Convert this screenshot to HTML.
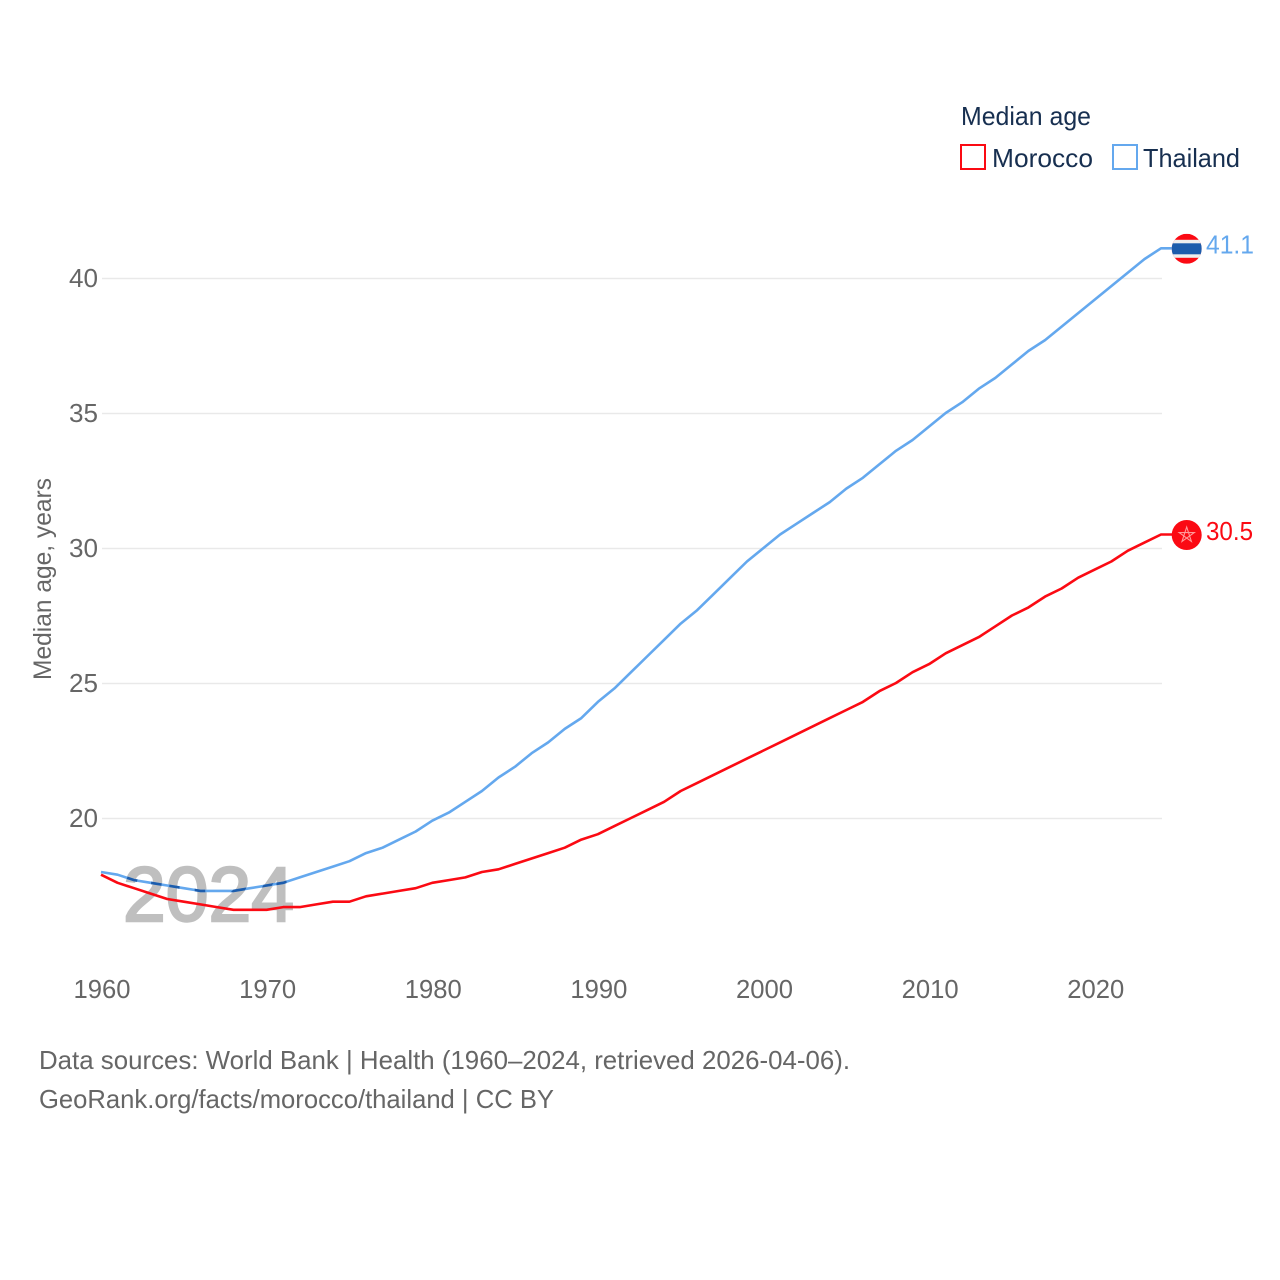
<!DOCTYPE html>
<html>
<head>
<meta charset="utf-8">
<title>Median age: Morocco and Thailand</title>
<style>
html,body{margin:0;padding:0;background:#fff;width:1280px;height:1280px;overflow:hidden}
svg{display:block}
text{font-family:"Liberation Sans",sans-serif}
</style>
</head>
<body>
<svg id="chart" xmlns="http://www.w3.org/2000/svg" width="1280" height="1280" viewBox="0 0 1280 1280">
  <defs>
    <clipPath id="flag-clip-th"><circle id="flag-clip-th-c" r="15"/></clipPath>
    <clipPath id="year-clip"><text x="123" y="921" font-size="77" font-weight="700" textLength="171" lengthAdjust="spacingAndGlyphs">2024</text></clipPath>
  </defs>
  <g id="grid"></g>
  <g id="yticks"></g>
  <g id="xticks"></g>
  <text transform="translate(51,680) rotate(-90)" font-size="25" fill="#666" textLength="202" lengthAdjust="spacingAndGlyphs">Median age, years</text>
  <text x="123" y="921" font-size="77" font-weight="400" fill="#bfbfbf" stroke="#bfbfbf" stroke-width="2.4" textLength="171" lengthAdjust="spacingAndGlyphs">2024</text>
  <g id="series"></g>
  <g id="ends"></g>
  <text x="961" y="125" font-size="26" fill="#172f50" textLength="130" lengthAdjust="spacingAndGlyphs">Median age</text>
  <g>
    <rect x="961" y="145" width="24" height="24" fill="none" stroke="#fb0a13" stroke-width="2"/>
    <text x="992" y="167" font-size="26" fill="#172f50" textLength="101" lengthAdjust="spacingAndGlyphs">Morocco</text>
  </g>
  <g>
    <rect x="1113" y="145" width="24" height="24" fill="none" stroke="#64a8ee" stroke-width="2"/>
    <text x="1143" y="167" font-size="26" fill="#172f50" textLength="97" lengthAdjust="spacingAndGlyphs">Thailand</text>
  </g>
  <text x="39" y="1069" font-size="26" fill="#666" textLength="811" lengthAdjust="spacingAndGlyphs">Data sources: World Bank | Health (1960–2024, retrieved 2026-04-06).</text>
  <text x="39" y="1108" font-size="26" fill="#666" textLength="515" lengthAdjust="spacingAndGlyphs">GeoRank.org/facts/morocco/thailand | CC BY</text>
</svg>
<script>
const years = [1960,1961,1962,1963,1964,1965,1966,1967,1968,1969,1970,1971,1972,1973,1974,1975,1976,1977,1978,1979,1980,1981,1982,1983,1984,1985,1986,1987,1988,1989,1990,1991,1992,1993,1994,1995,1996,1997,1998,1999,2000,2001,2002,2003,2004,2005,2006,2007,2008,2009,2010,2011,2012,2013,2014,2015,2016,2017,2018,2019,2020,2021,2022,2023,2024];
const thailandValues = [18.0,17.9,17.7,17.6,17.5,17.4,17.3,17.3,17.3,17.4,17.5,17.6,17.8,18.0,18.2,18.4,18.7,18.9,19.2,19.5,19.9,20.2,20.6,21.0,21.5,21.9,22.4,22.8,23.3,23.7,24.3,24.8,25.4,26.0,26.6,27.2,27.7,28.3,28.9,29.5,30.0,30.5,30.9,31.3,31.7,32.2,32.6,33.1,33.6,34.0,34.5,35.0,35.4,35.9,36.3,36.8,37.3,37.7,38.2,38.7,39.2,39.7,40.2,40.7,41.1];
const moroccoValues = [17.9,17.6,17.4,17.2,17.0,16.9,16.8,16.7,16.6,16.6,16.6,16.7,16.7,16.8,16.9,16.9,17.1,17.2,17.3,17.4,17.6,17.7,17.8,18.0,18.1,18.3,18.5,18.7,18.9,19.2,19.4,19.7,20.0,20.3,20.6,21.0,21.3,21.6,21.9,22.2,22.5,22.8,23.1,23.4,23.7,24.0,24.3,24.7,25.0,25.4,25.7,26.1,26.4,26.7,27.1,27.5,27.8,28.2,28.5,28.9,29.2,29.5,29.9,30.2,30.5];
const xTickLabels = [1960,1970,1980,1990,2000,2010,2020];
const yTickLabels = [20,25,30,35,40];

const NS = 'http://www.w3.org/2000/svg';
function xScale(year){ return 102 + (year - 1960) * (1060 / 64); }
function yScale(v){ return 818.5 - (v - 20) * 27; }
function make(tag, attrs, parent, txt){
  const el = document.createElementNS(NS, tag);
  for (const k in attrs) el.setAttribute(k, attrs[k]);
  if (txt !== undefined) el.textContent = txt;
  parent.appendChild(el);
  return el;
}
const gridG = document.getElementById('grid');
const yG = document.getElementById('yticks');
const xG = document.getElementById('xticks');
const seriesG = document.getElementById('series');
const endsG = document.getElementById('ends');

yTickLabels.forEach(function(v){
  const line = make('line', {x1:102, x2:1162, y1:yScale(v), y2:yScale(v), stroke:'#e9e9e9', 'stroke-width':1.5}, gridG);
  
  
  const t = make('text', {x:98, y:yScale(v)+8.5, 'text-anchor':'end', 'font-size':26, fill:'#666', textLength:29, lengthAdjust:'spacingAndGlyphs'}, yG, String(v));
  
  
});
xTickLabels.forEach(function(y){
  const t = make('text', {x:xScale(y)-28.5, y:998, 'font-size':26, fill:'#666', textLength:57, lengthAdjust:'spacingAndGlyphs'}, xG, String(y));
  
  
});

function linePath(values){
  let d = '';
  values.forEach(function(v, i){
    d += (i ? 'L' : 'M') + (xScale(years[i]) - 1).toFixed(2) + ' ' + (yScale(v) - 0.5).toFixed(2);
  });
  const last = values[values.length - 1];
  return d + 'L1172 ' + (yScale(last) - 0.5).toFixed(2);
}
const thLine = make('path', {d:linePath(thailandValues), fill:'none', stroke:'#64a8ee', 'stroke-width':2.6, 'stroke-linejoin':'round'}, seriesG);


const thOverlap = make('path', {d:linePath(thailandValues), fill:'none', stroke:'#1c5cac', 'stroke-width':2.6, 'clip-path':'url(#year-clip)'}, seriesG);


const moLine = make('path', {d:linePath(moroccoValues), fill:'none', stroke:'#fb0a13', 'stroke-width':2.6, 'stroke-linejoin':'round'}, seriesG);



const cx = 1186.7;
const thY = yScale(thailandValues[thailandValues.length - 1]);
const moY = yScale(moroccoValues[moroccoValues.length - 1]);

const clipC = document.getElementById('flag-clip-th-c');
clipC.setAttribute('cx', cx);
clipC.setAttribute('cy', thY);
const thFlag = make('g', {'clip-path':'url(#flag-clip-th)'}, endsG);


make('rect', {x:cx-15, y:thY-15, width:30, height:30, fill:'#fb0a13'}, thFlag);
make('rect', {x:cx-15, y:thY-9, width:30, height:18, fill:'#eeeeee'}, thFlag);
make('rect', {x:cx-15, y:thY-5.5, width:30, height:11, fill:'#1c5cac'}, thFlag);

const moFlag = make('g', {}, endsG);


make('circle', {cx:cx, cy:moY, r:15, fill:'#fb0a13'}, moFlag);
let star = '';
[0,2,4,1,3].forEach(function(k){
  const a = -Math.PI/2 + k * 2 * Math.PI / 5;
  star += (cx + 8*Math.cos(a)).toFixed(2) + ',' + (moY + 8*Math.sin(a)).toFixed(2) + ' ';
});
make('polygon', {points:star, fill:'none', stroke:'#ff9a9a', 'stroke-width':1.1}, moFlag);

const thLabel = make('text', {x:1206, y:thY+4.5, 'font-size':26, fill:'#64a8ee', textLength:48, lengthAdjust:'spacingAndGlyphs'}, endsG, thailandValues[thailandValues.length - 1].toFixed(1));


const moLabel = make('text', {x:1206, y:moY+5, 'font-size':26, fill:'#fb0a13', textLength:47, lengthAdjust:'spacingAndGlyphs'}, endsG, moroccoValues[moroccoValues.length - 1].toFixed(1));


</script>
</body>
</html>
